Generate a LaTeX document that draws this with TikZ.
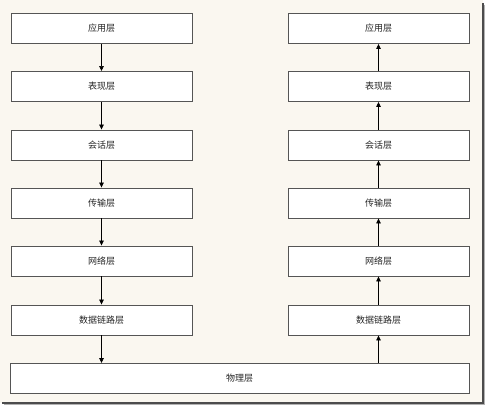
\documentclass[tikz,border=0pt]{standalone}
\usepackage{fontspec}
\newfontfamily\cjk{Noto Sans CJK SC}
\usetikzlibrary{arrows.meta}
\definecolor{bg}{HTML}{FAF7F0}
\definecolor{edge}{HTML}{555555}
\begin{document}
\begin{tikzpicture}[x=1pt,y=-1pt,
  layer/.style={draw=edge,line width=0.9pt,fill=white,minimum height=30pt,inner sep=0pt,font=\cjk\fontsize{9}{11}\selectfont,text=black!85},
  small/.style={layer,minimum width=181pt},
  big/.style={layer,minimum width=459pt},
  conn/.style={draw=black,line width=0.7pt,-{Triangle[length=5pt,width=4.5pt]}}]
\useasboundingbox (0,0) rectangle (486,406);
\fill[white] (0,0) rectangle (486,406);
\fill[bg] (0,0) rectangle (483,403);
\draw[black!70,line width=1.6pt] (483,3) -- (483,403) -- (2,403);
\draw[black!30,line width=0.8pt] (484.8,5) -- (484.8,404.8) -- (4,404.8);
% left stack
\node[small] (l1) at (101.5,28.5) {应用层};
\node[small] (l2) at (101.5,86.5) {表现层};
\node[small] (l3) at (101.5,145) {会话层};
\node[small] (l4) at (101.5,203) {传输层};
\node[small] (l5) at (101.5,261) {网络层};
\node[small] (l6) at (101.5,320) {数据链路层};
% right stack
\node[small] (r1) at (378.5,28.5) {应用层};
\node[small] (r2) at (378.5,86.5) {表现层};
\node[small] (r3) at (378.5,145) {会话层};
\node[small] (r4) at (378.5,203) {传输层};
\node[small] (r5) at (378.5,261) {网络层};
\node[small] (r6) at (378.5,320) {数据链路层};
% physical
\node[big] (ph) at (239.5,378.5) {物理层};
% connectors
\foreach \a/\b in {l1/l2,l2/l3,l3/l4,l4/l5,l5/l6}
  \draw[conn] (\a.south) -- (\b.north);
\draw[conn] (l6.south) -- (l6.south |- ph.north);
\foreach \a/\b in {r2/r1,r3/r2,r4/r3,r5/r4,r6/r5}
  \draw[conn] (\a.north) -- (\b.south);
\draw[conn] (r6.south |- ph.north) -- (r6.south);
\end{tikzpicture}
\end{document}
